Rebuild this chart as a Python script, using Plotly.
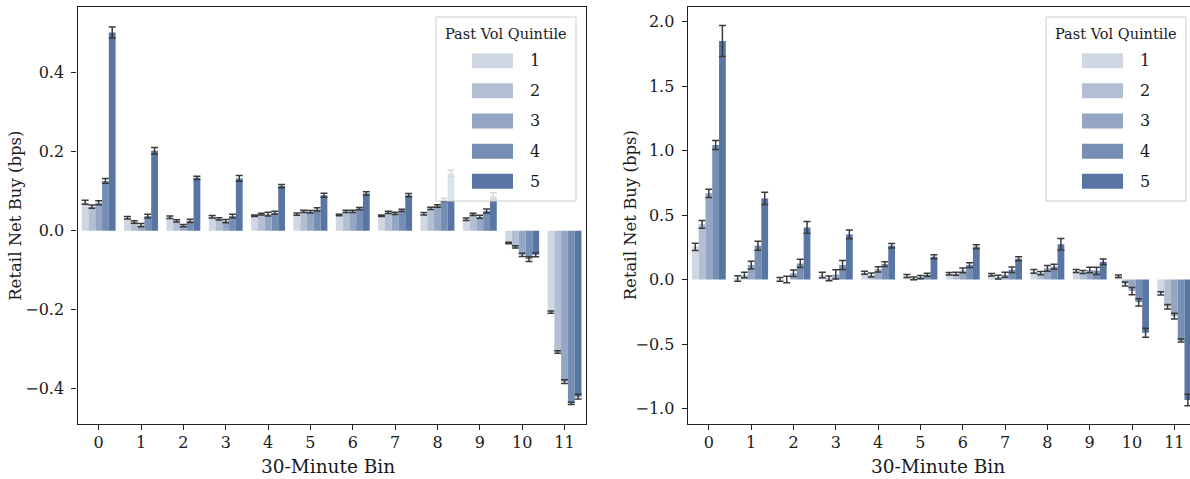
import plotly.graph_objects as go

W, H = 1190, 479

bins = list(range(12))
quintiles = ["1", "2", "3", "4", "5"]
colors = ["#d0d7e3", "#b2bfd3", "#94a6c3", "#768eb4", "#5875a4"]

# Left panel: retail net buy (bps) by 30-minute bin and past-volatility quintile
left_q1 = [0.072, 0.033, 0.034, 0.0355, 0.038, 0.042, 0.040, 0.038, 0.043, 0.029, -0.031, -0.206]
left_q2 = [0.061, 0.022, 0.025, 0.030, 0.042, 0.049, 0.049, 0.0465, 0.0565, 0.0415, -0.041, -0.307]
left_q3 = [0.071, 0.014, 0.013, 0.0245, 0.042, 0.048, 0.049, 0.044, 0.0625, 0.0355, -0.061, -0.382]
left_q4 = [0.126, 0.037, 0.025, 0.037, 0.0455, 0.054, 0.056, 0.0515, 0.078, 0.050, -0.072, -0.437]
left_q5 = [0.502, 0.2025, 0.134, 0.1325, 0.113, 0.090, 0.0945, 0.090, 0.145, 0.088, -0.061, -0.420]

left_e1 = [0.005, 0.003, 0.003, 0.003, 0.002, 0.003, 0.002, 0.002, 0.003, 0.003, 0.002, 0.003]
left_e2 = [0.004, 0.003, 0.003, 0.003, 0.002, 0.003, 0.003, 0.003, 0.003, 0.003, 0.003, 0.003]
left_e3 = [0.005, 0.004, 0.003, 0.004, 0.005, 0.003, 0.003, 0.003, 0.003, 0.004, 0.004, 0.005]
left_e4 = [0.006, 0.005, 0.004, 0.005, 0.004, 0.004, 0.003, 0.003, 0.004, 0.005, 0.006, 0.003]
left_e5 = [0.014, 0.008, 0.004, 0.007, 0.004, 0.005, 0.004, 0.004, 0.008, 0.008, 0.005, 0.006]

# Right panel
right_q1 = [0.254, 0.008, 0.001, 0.035, 0.053, 0.027, 0.045, 0.037, 0.063, 0.066, 0.025, -0.107]
right_q2 = [0.428, 0.035, 0.000, 0.009, 0.035, 0.009, 0.045, 0.019, 0.050, 0.058, -0.035, -0.211]
right_q3 = [0.668, 0.112, 0.048, 0.040, 0.079, 0.019, 0.071, 0.037, 0.087, 0.074, -0.089, -0.283]
right_q4 = [1.043, 0.262, 0.125, 0.112, 0.120, 0.037, 0.112, 0.076, 0.099, 0.068, -0.177, -0.472]
right_q5 = [1.849, 0.629, 0.404, 0.350, 0.262, 0.177, 0.254, 0.161, 0.273, 0.138, -0.412, -0.934]

right_e1 = [0.028, 0.022, 0.015, 0.022, 0.012, 0.012, 0.010, 0.010, 0.015, 0.012, 0.010, 0.012]
right_e2 = [0.030, 0.022, 0.025, 0.018, 0.015, 0.010, 0.012, 0.015, 0.012, 0.012, 0.015, 0.018]
right_e3 = [0.032, 0.030, 0.025, 0.035, 0.020, 0.012, 0.018, 0.020, 0.022, 0.022, 0.028, 0.022]
right_e4 = [0.035, 0.035, 0.032, 0.035, 0.018, 0.012, 0.018, 0.022, 0.020, 0.028, 0.028, 0.012]
right_e5 = [0.120, 0.048, 0.045, 0.033, 0.018, 0.015, 0.015, 0.015, 0.045, 0.022, 0.035, 0.045]

left_vals = [left_q1, left_q2, left_q3, left_q4, left_q5]
left_errs = [left_e1, left_e2, left_e3, left_e4, left_e5]
right_vals = [right_q1, right_q2, right_q3, right_q4, right_q5]
right_errs = [right_e1, right_e2, right_e3, right_e4, right_e5]

FONT = "DejaVu Serif"
INK = "#1a1a1a"
SPINE = "#222222"
ERR = "#3a3a3a"


def px(x):
    return x / W


def py(y):
    return 1 - y / H


fig = go.Figure()

for vals, errs, xa, ya in [(left_vals, left_errs, "x", "y"), (right_vals, right_errs, "x2", "y2")]:
    for q, v, e, c in zip(quintiles, vals, errs, colors):
        fig.add_trace(go.Bar(
            x=bins, y=v, name=q, xaxis=xa, yaxis=ya,
            marker=dict(color=c, line=dict(width=0)),
            error_y=dict(type="data", array=e, visible=True,
                         color=ERR, thickness=1.5, width=3.5),
            showlegend=False, offsetgroup=q,
        ))

top_px, bot_px = 7.3, 424.3
ydom = [py(bot_px), py(top_px)]

axis_common = dict(
    showgrid=False, zeroline=False, showline=True, linecolor=SPINE, linewidth=1.3,
    ticks="outside", ticklen=5, tickwidth=1.2, tickcolor=SPINE,
    tickfont=dict(family=FONT, size=16, color=INK),
)

fig.update_layout(
    width=W, height=H,
    margin=dict(l=0, r=0, t=0, b=0),
    paper_bgcolor="white", plot_bgcolor="white",
    barmode="group", bargap=0.2, bargroupgap=0,
    xaxis=dict(domain=[px(77.5), px(585.7)], range=[-0.5, 11.5], anchor="y",
               tickvals=bins, ticktext=[str(b) for b in bins], mirror=True,
               ticklabelstandoff=-2, **axis_common),
    yaxis=dict(domain=ydom, range=[-0.490, 0.5656], anchor="x",
               tickvals=[-0.4, -0.2, 0.0, 0.2, 0.4], tickformat=".1f", mirror=True,
               ticklabelstandoff=4, **axis_common),
    xaxis2=dict(domain=[px(687.7), 1.0], range=[-0.5, 11.37], anchor="y2",
                tickvals=bins, ticktext=[str(b) for b in bins], mirror=True,
                ticklabelstandoff=-2, **axis_common),
    yaxis2=dict(domain=ydom, range=[-1.122, 2.11], anchor="x2",
                tickvals=[-1.0, -0.5, 0.0, 0.5, 1.0, 1.5, 2.0], tickformat=".1f",
                ticklabelstandoff=4, **axis_common),
)

annotations = []
# axis titles
for cx in (16.0, 630.5):
    annotations.append(dict(
        text="Retail Net Buy (bps)", x=px(cx), y=py((top_px + bot_px) / 2),
        xref="paper", yref="paper", xanchor="center", yanchor="middle",
        textangle=-90, showarrow=False,
        font=dict(family=FONT, size=16.5, color=INK),
    ))
for cx in (328.0, 938.0):
    annotations.append(dict(
        text="30-Minute Bin", x=px(cx), y=py(466.5),
        xref="paper", yref="paper", xanchor="center", yanchor="middle",
        showarrow=False, font=dict(family=FONT, size=18.5, color=INK),
    ))

# legend boxes drawn on top of the bars, semi-transparent like a framed legend
shapes = []
legend_top, legend_bot = 17.0, 201.0
entry_y = [60.7, 90.7, 121.0, 151.3, 181.3]
for L in (436.0, 1046.0):
    R = L + 140
    shapes.append(dict(
        type="rect", xref="paper", yref="paper", layer="above",
        x0=px(L), x1=px(R), y0=py(legend_bot), y1=py(legend_top),
        fillcolor="rgba(255,255,255,0.8)", line=dict(color="#cccccc", width=1),
    ))
    annotations.append(dict(
        text="Past Vol Quintile", x=px(L + 70), y=py(33.5),
        xref="paper", yref="paper", xanchor="center", yanchor="middle",
        showarrow=False, font=dict(family=FONT, size=14.5, color=INK),
    ))
    for q, c, ey in zip(quintiles, colors, entry_y):
        shapes.append(dict(
            type="rect", xref="paper", yref="paper", layer="above",
            x0=px(L + 36), x1=px(L + 77), y0=py(ey + 7.5), y1=py(ey - 7.5),
            fillcolor=c, line=dict(width=0),
        ))
        annotations.append(dict(
            text=q, x=px(L + 92), y=py(ey),
            xref="paper", yref="paper", xanchor="left", yanchor="middle",
            showarrow=False, font=dict(family=FONT, size=16, color=INK),
        ))

fig.update_layout(shapes=shapes, annotations=annotations)

fig.write_html("out.html")
